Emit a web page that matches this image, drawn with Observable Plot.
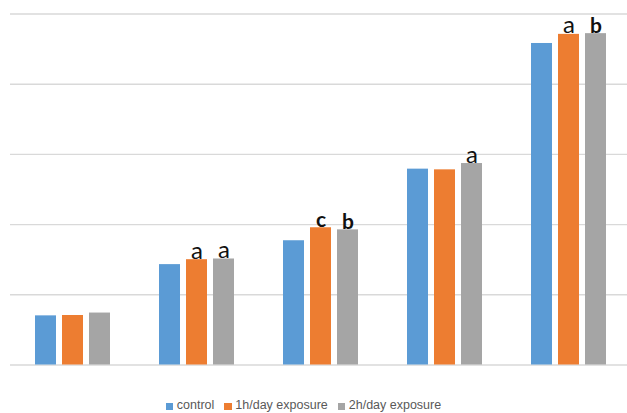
<!DOCTYPE html>
<html>
<head>
<meta charset="utf-8">
<script src="https://cdn.jsdelivr.net/npm/d3@7"></script>
<script src="https://cdn.jsdelivr.net/npm/@observablehq/plot@0.6"></script>
<style>
  html, body { margin: 0; padding: 0; background: #fff; }
  #chart { width: 627px; }
  #plots { position: relative; width: 627px; height: 398px; }
  #plots svg { position: absolute; left: 0; top: 0; }
  .legend { font-family: "Liberation Sans", Arial, sans-serif; font-size: 12.5px; color: #595959;
    display: flex; justify-content: center; gap: 10px; line-height: 19px; height: 15px; overflow: hidden;
    padding-right: 20px; }
  .legend span { display: inline-flex; align-items: center; }
  .legend i { display: inline-block; width: 7.5px; height: 7.5px; margin-right: 3.5px; position: relative; top: 1px; }
</style>
</head>
<body>
<div id="chart"><div id="plots"></div></div>
<script>
const groups = ["1", "2", "3", "4", "5"];
const seriesNames = ["control", "1h/day exposure", "2h/day exposure"];
const control = [0.70, 1.43, 1.77, 2.79, 4.58];
const exp1h = [0.705, 1.50, 1.955, 2.78, 4.71];
const exp2h = [0.74, 1.51, 1.925, 2.87, 4.72];
const labels1h = ["", "a", "c", "", "a"];
const labels2h = ["", "a", "b", "a", "b"];
const colors = ["#5b9bd5", "#ed7d31", "#a5a5a5"];
const gridTicks = [0, 1, 2, 3, 4, 5];

const rows = [];
groups.forEach((g, i) => {
  rows.push({group: g, series: seriesNames[0], value: control[i], label: ""});
  rows.push({group: g, series: seriesNames[1], value: exp1h[i], label: labels1h[i]});
  rows.push({group: g, series: seriesNames[2], value: exp2h[i], label: labels2h[i]});
});
const labelled = rows.filter(d => d.label);
const isBold = d => d.label === "b" || d.label === "c";

const common = {
  width: 627,
  height: 398,
  marginLeft: 10,
  marginRight: -3,
  marginTop: 13.5,
  marginBottom: 33.5,
  y: {domain: [0, 5], axis: null}
};

const grid = Plot.plot({
  ...common,
  style: {background: "#fff"},
  marks: [
    Plot.ruleY(gridTicks, {stroke: "#d9d9d9", strokeWidth: 1.4})
  ]
});

const bars = Plot.plot({
  ...common,
  style: {background: "transparent", fontFamily: "Lato, 'Open Sans', sans-serif"},
  fx: {domain: groups, paddingInner: 0.38, paddingOuter: 0.19, axis: null, label: null},
  x: {domain: seriesNames, paddingInner: 0.21, paddingOuter: 0, axis: null},
  color: {domain: seriesNames, range: colors},
  marks: [
    Plot.barY(rows, {fx: "group", x: "series", y: "value", fill: "series"}),
    Plot.text(labelled.filter(d => !isBold(d)), {fx: "group", x: "series", y: "value", text: "label",
      lineAnchor: "bottom", dy: -1, fontSize: 24, fill: "#111"}),
    Plot.text(labelled.filter(isBold), {fx: "group", x: "series", y: "value", text: "label",
      lineAnchor: "bottom", dy: -1, fontSize: 21, fontWeight: "bold", fill: "#111"})
  ]
});
const plots = document.getElementById("plots");
plots.appendChild(grid);
plots.appendChild(bars);

const legend = document.createElement("div");
legend.className = "legend";
seriesNames.forEach((s, i) => {
  const item = document.createElement("span");
  const sw = document.createElement("i");
  sw.style.background = colors[i];
  item.appendChild(sw);
  item.appendChild(document.createTextNode(s));
  legend.appendChild(item);
});
document.getElementById("chart").appendChild(legend);
</script>
</body>
</html>
